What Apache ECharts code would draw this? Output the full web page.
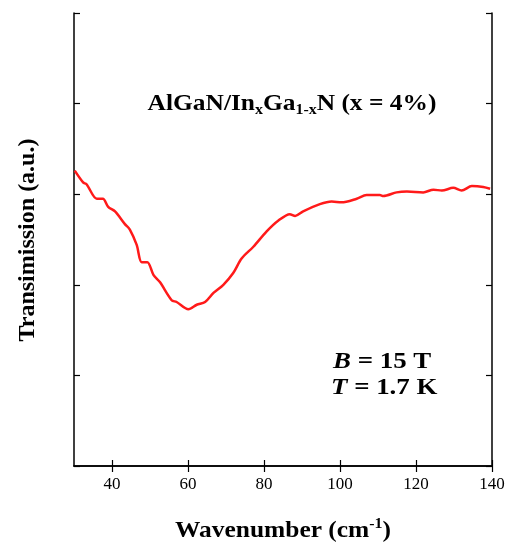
<!DOCTYPE html>
<html><head><meta charset="utf-8">
<script src="https://cdn.jsdelivr.net/npm/echarts@6/dist/echarts.min.js"></script>
<style>html,body{margin:0;padding:0;background:#fff}#c{width:512px;height:547px}</style>
</head><body><div id="c"></div>
<script>
const wavenumber = [30.2,32.4,33.3,36.0,37.6,39.0,40.8,43.4,44.7,46.5,47.8,49.3,50.9,52.6,55.7,57.0,60.1,62.3,64.5,66.7,69.3,71.9,74.1,77.2,80.7,83.8,86.8,88.2,90.3,94.7,97.8,100.4,104.4,107.0,110.5,111.4,114.9,117.6,121.9,124.6,126.8,129.8,132.0,134.7,137.7,139.5];
const transmission = [3.26,3.13,3.11,2.95,2.95,2.86,2.81,2.67,2.61,2.44,2.25,2.25,2.11,2.03,1.83,1.81,1.73,1.78,1.81,1.91,2.00,2.13,2.29,2.42,2.59,2.71,2.78,2.76,2.81,2.89,2.92,2.91,2.95,2.99,2.99,2.98,3.02,3.03,3.02,3.05,3.04,3.07,3.04,3.09,3.08,3.06];
const xTicks = [40,60,80,100,120,140];
const serif = '"Liberation Serif","Times New Roman",serif';
const chart = echarts.init(document.getElementById('c'));
const axLine = {show:true,lineStyle:{color:'#000',width:1.5}};
const tick = {show:true,inside:true,length:6,lineStyle:{color:'#000',width:1.2}};
const B = (sz)=>({fontFamily:serif,fontWeight:'bold',fontSize:sz,fill:'#000'});
const BI = (sz)=>({fontFamily:serif,fontWeight:'bold',fontStyle:'italic',fontSize:sz,fill:'#000'});
chart.setOption({
  animation:false,
  grid:{left:74,right:20,top:13,bottom:81},
  xAxis:[{type:'value',min:30,max:140,position:'bottom',axisLine:axLine,
    axisTick:Object.assign({},tick,{customValues:xTicks}),
    axisLabel:{customValues:xTicks,color:'#000',fontFamily:serif,fontSize:17,margin:10},
    splitLine:{show:false}},
   {type:'value',min:30,max:140,position:'top',axisLine:axLine,
    axisTick:Object.assign({},tick,{customValues:xTicks}),axisLabel:{show:false},splitLine:{show:false}}],
  yAxis:[{type:'value',min:0,max:5,interval:1,position:'left',axisLine:axLine,axisTick:tick,axisLabel:{show:false},splitLine:{show:false}},
   {type:'value',min:0,max:5,interval:1,position:'right',axisLine:axLine,axisTick:tick,axisLabel:{show:false},splitLine:{show:false}}],
  series:[{type:'line',data:wavenumber.map((x,i)=>[x,transmission[i]]),showSymbol:false,smooth:0.3,
    lineStyle:{color:'#ff1a1a',width:2.5}}],
  graphic:[
    {type:'text',x:292,y:104,scaleX:1.06,style:{text:'{a|AlGaN/In}{s|x}{a|Ga}{s|1-x}{a|N (x = 4%)}',
      align:'center',verticalAlign:'middle',
      rich:{a:B(24),s:Object.assign(B(15),{padding:[12,0,0,0]})}}},
    {type:'text',x:283,y:531,scaleX:1.06,style:{text:'{a|Wavenumber (cm}{s|-1}{a|)}',align:'center',verticalAlign:'middle',
      rich:{a:B(24),s:Object.assign(B(15),{padding:[0,0,14,0]})}}},
    {type:'text',x:28,y:240,rotation:Math.PI/2,style:{text:'Transimission (a.u.)',align:'center',verticalAlign:'middle',
      font:'bold 24px '+serif,fill:'#000'}},
    {type:'text',x:333,y:362,scaleX:1.12,style:{text:'{i|B}{a| = 15 T}',align:'left',verticalAlign:'middle',rich:{i:BI(24),a:B(24)}}},
    {type:'text',x:331,y:388,scaleX:1.12,style:{text:'{i|T}{a| = 1.7 K}',align:'left',verticalAlign:'middle',rich:{i:BI(24),a:B(24)}}}
  ]
});
</script></body></html>
